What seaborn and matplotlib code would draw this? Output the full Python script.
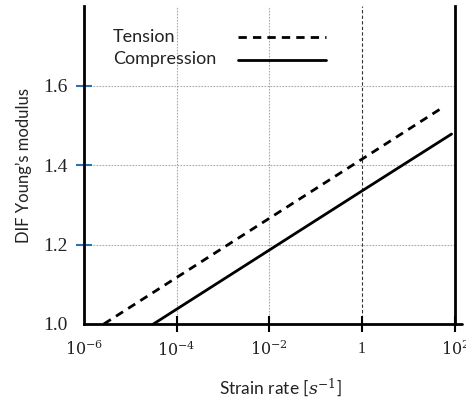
import numpy as np
import pandas as pd
import matplotlib
matplotlib.use("Agg")
import matplotlib.pyplot as plt
from matplotlib.lines import Line2D
import seaborn as sns

# data
tension_rate = [10**-5.57, 1.0, 10**1.74]
tension_dif = [1.0, 1.415, 1.545]
compression_rate = [10**-4.5, 1.0, 10**1.93]
compression_dif = [1.0, 1.335, 1.478]
series_names = ["Tension", "Compression"]
x_ticks = [1e-6, 1e-4, 1e-2, 1, 1e2]
x_ticklabels = ["$10^{-6}$", "$10^{-4}$", "$10^{-2}$", "1", "$10^{2}$"]
y_ticks = [1.0, 1.2, 1.4, 1.6]
y_ticklabels = ["1.0", "1.2", "1.4", "1.6"]

df = pd.DataFrame({
    "rate": tension_rate + compression_rate,
    "dif": tension_dif + compression_dif,
    "kind": [series_names[0]] * len(tension_rate) + [series_names[1]] * len(compression_rate),
})

sns.set_style("white")
plt.rcParams["font.family"] = ["Lato", "DejaVu Sans"]
plt.rcParams["mathtext.fontset"] = "dejavuserif"

fig = plt.figure(figsize=(4.66, 4.05), dpi=100)
ax = fig.add_axes([0.180, 0.200, 0.796, 0.785])

sns.lineplot(data=df, x="rate", y="dif", hue="kind", style="kind",
             palette={"Tension": "black", "Compression": "black"},
             dashes={"Tension": (3, 2.2), "Compression": ""},
             linewidth=2, ax=ax, legend=True)
handles = ax.get_legend().legend_handles
ax.get_legend().remove()
ax.set_xscale("log")
ax.set_xlim(1e-6, 1e2)
ax.set_ylim(1.0, 1.8)

# grid
for xv in [1e-4, 1e-2]:
    ax.axvline(xv, color="#aaaaaa", lw=0.8, ls=(0, (1.5, 1.2)), zorder=0)
ax.axvline(1, color="#333333", lw=0.8, ls=(0, (3, 2)), zorder=0)
for yv in [1.2, 1.4, 1.6]:
    ax.axhline(yv, color="#aaaaaa", lw=0.8, ls=(0, (1.5, 1.2)), zorder=0)

for s in ["left", "right", "bottom"]:
    ax.spines[s].set_linewidth(2)
    ax.spines[s].set_color("black")
ax.spines["top"].set_visible(False)
# bottom axis line runs slightly past the right spine
ax.add_line(Line2D([1.0, 1.02], [0, 0], transform=ax.transAxes, color="black",
                   lw=2, clip_on=False))

ax.set_xticks(x_ticks)
ax.set_xticklabels(x_ticklabels)
ax.minorticks_off()
ax.set_yticks(y_ticks)
ax.set_yticklabels(y_ticklabels)
ax.tick_params(axis="x", bottom=True, direction="inout", length=12, width=1.5,
               color="black", pad=6, labelsize=11.5, labelcolor="#222222")
for lab in ax.get_xticklabels():
    lab.set_family(["Liberation Serif", "DejaVu Serif"])
ax.tick_params(axis="y", left=True, direction="inout", length=11, width=1.5,
               color="#2f6fb3", pad=6, labelsize=14, labelcolor="#222222")
for lab in ax.get_yticklabels():
    lab.set_family(["Liberation Serif", "DejaVu Serif"])
xt = ax.xaxis.get_major_ticks()
xt[3].tick1line.set_color("#2f6fb3")
xt[0].tick1line.set_visible(False)
yt = ax.yaxis.get_major_ticks()
yt[0].tick1line.set_visible(False)

ax.set_xlabel("Strain rate [$s^{-1}$]", fontsize=12.5, color="#222222")
ax.xaxis.set_label_coords(0.53, -0.165)
ax.set_ylabel("DIF Young\u2019s modulus", fontsize=12, color="#222222", labelpad=8)

# legend: text on the left, line samples on the right
leg = ax.legend(handles=handles, labels=["", ""], loc="center left",
                bbox_to_anchor=(0.415, 0.862), frameon=False,
                handlelength=4.9, handletextpad=0, borderpad=0, borderaxespad=0,
                fontsize=13, labelspacing=0.35)
ax.text(0.078, 0.9025, series_names[0], transform=ax.transAxes, fontsize=13,
        color="#222222", va="center", ha="left")
ax.text(0.078, 0.833, series_names[1], transform=ax.transAxes, fontsize=13,
        color="#222222", va="center", ha="left")

fig.savefig("out.png", dpi=100)
